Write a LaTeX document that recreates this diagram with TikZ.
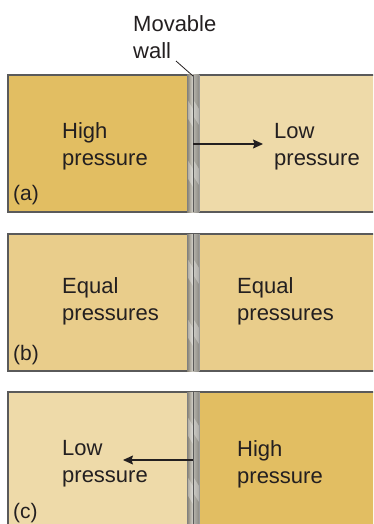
\documentclass[tikz,border=0pt]{standalone}
\usepackage{fontspec}
\setmainfont{Liberation Sans}
\usetikzlibrary{arrows.meta}
\definecolor{goldD}{HTML}{E2BE62}
\definecolor{goldL}{HTML}{EEDAA9}
\definecolor{goldM}{HTML}{E9CD8B}
\definecolor{edge}{HTML}{5A5A5A}
\definecolor{ink}{HTML}{231F20}
\definecolor{wallA}{HTML}{857F70}
\definecolor{wallB}{HTML}{D9D7D0}
\definecolor{wallC}{HTML}{B8B6AE}
\definecolor{wallD}{HTML}{8C8A84}
\newcommand{\twoline}[2]{\vtop{\hbox{#1}\hbox{#2}}}
\tikzset{
  lbl/.style={anchor=base west, inner sep=0pt, text=ink, font=\fontsize{22}{27}\selectfont},
  tag/.style={anchor=base west, inner sep=0pt, text=ink, font=\fontsize{21}{25}\selectfont},
  border/.style={draw=edge, line width=1.2pt},
  arr/.style={draw=ink, line width=1.2pt, -{Stealth[length=10pt,width=9pt,inset=1.5pt]}},
  streak/.style={fill=white, opacity=0.3},
}
\newcommand{\wallbar}[2]{%
  \shade[left color=wallA, right color=wallB] (187,#1) rectangle (193,#2);
  \shade[left color=wallC, right color=wallD] (193,#1) rectangle (199,#2);
  \fill[streak] (187,{#1+24}) -- (193,{#1+34}) -- (193,{#1+52}) -- (187,{#1+42}) -- cycle;
  \fill[streak] (194,{#1+26}) -- (199,{#1+34}) -- (199,{#1+50}) -- (194,{#1+42}) -- cycle;
  \fill[streak] (187,{#1+84}) -- (193,{#1+94}) -- (193,{#1+112}) -- (187,{#1+102}) -- cycle;
  \fill[streak] (194,{#1+86}) -- (199,{#1+94}) -- (199,{#1+110}) -- (194,{#1+102}) -- cycle;
  \draw[black!65, line width=1.1pt] (193.5,#1) -- (193.5,#2);
  \draw[black!50, line width=0.6pt] (187,#1) -- (187,#2);
  \draw[black!40, line width=0.5pt] (199,#1) -- (199,#2);
}
\begin{document}
\begin{tikzpicture}[x=1pt,y=-1pt]
\useasboundingbox (0,0) rectangle (373,524);
\clip (0,0) rectangle (373,524);
% panel (a)
\fill[goldD] (8,75) rectangle (190,212);
\fill[goldL] (190,75) rectangle (385,212);
\draw[border] (385,75) -- (8,75) -- (8,212) -- (385,212);
\wallbar{75}{212}
% panel (b)
\fill[goldM] (8,234) rectangle (385,371);
\draw[border] (385,234) -- (8,234) -- (8,371) -- (385,371);
\wallbar{234}{371}
% panel (c)
\fill[goldL] (8,392) rectangle (190,530);
\fill[goldD] (190,392) rectangle (385,530);
\draw[border] (385,392) -- (8,392) -- (8,530);
\wallbar{392}{530}
% labels
\node[lbl] (mw) at (133,32) {\twoline{Movable}{wall}};
\coordinate (mwfrom) at (176,61);
\coordinate (mwto) at (193,76);
\draw[ink, line width=0.8pt] (mwfrom) -- (mwto);
\node[lbl] (ahigh) at (62,139) {\twoline{High}{pressure}};
\node[lbl] (alow) at (274,139) {\twoline{Low}{pressure}};
\node[tag] (atag) at (13,200) {(a)};
\coordinate (aw) at (193,144);
\coordinate (ae) at (263,144);
\draw[arr] (aw) -- (ae);
\node[lbl] (beq1) at (62,293) {\twoline{Equal}{pressures}};
\node[lbl] (beq2) at (237,293) {\twoline{Equal}{pressures}};
\node[tag] (btag) at (13,360) {(b)};
\node[lbl] (clow) at (62,455) {\twoline{Low}{pressure}};
\node[lbl] (chigh) at (237,456) {\twoline{High}{pressure}};
\node[tag] (ctag) at (13,518) {(c)};
\coordinate (cw) at (193,460);
\coordinate (ce) at (123,460);
\draw[arr] (cw) -- (ce);
\end{tikzpicture}
\end{document}
